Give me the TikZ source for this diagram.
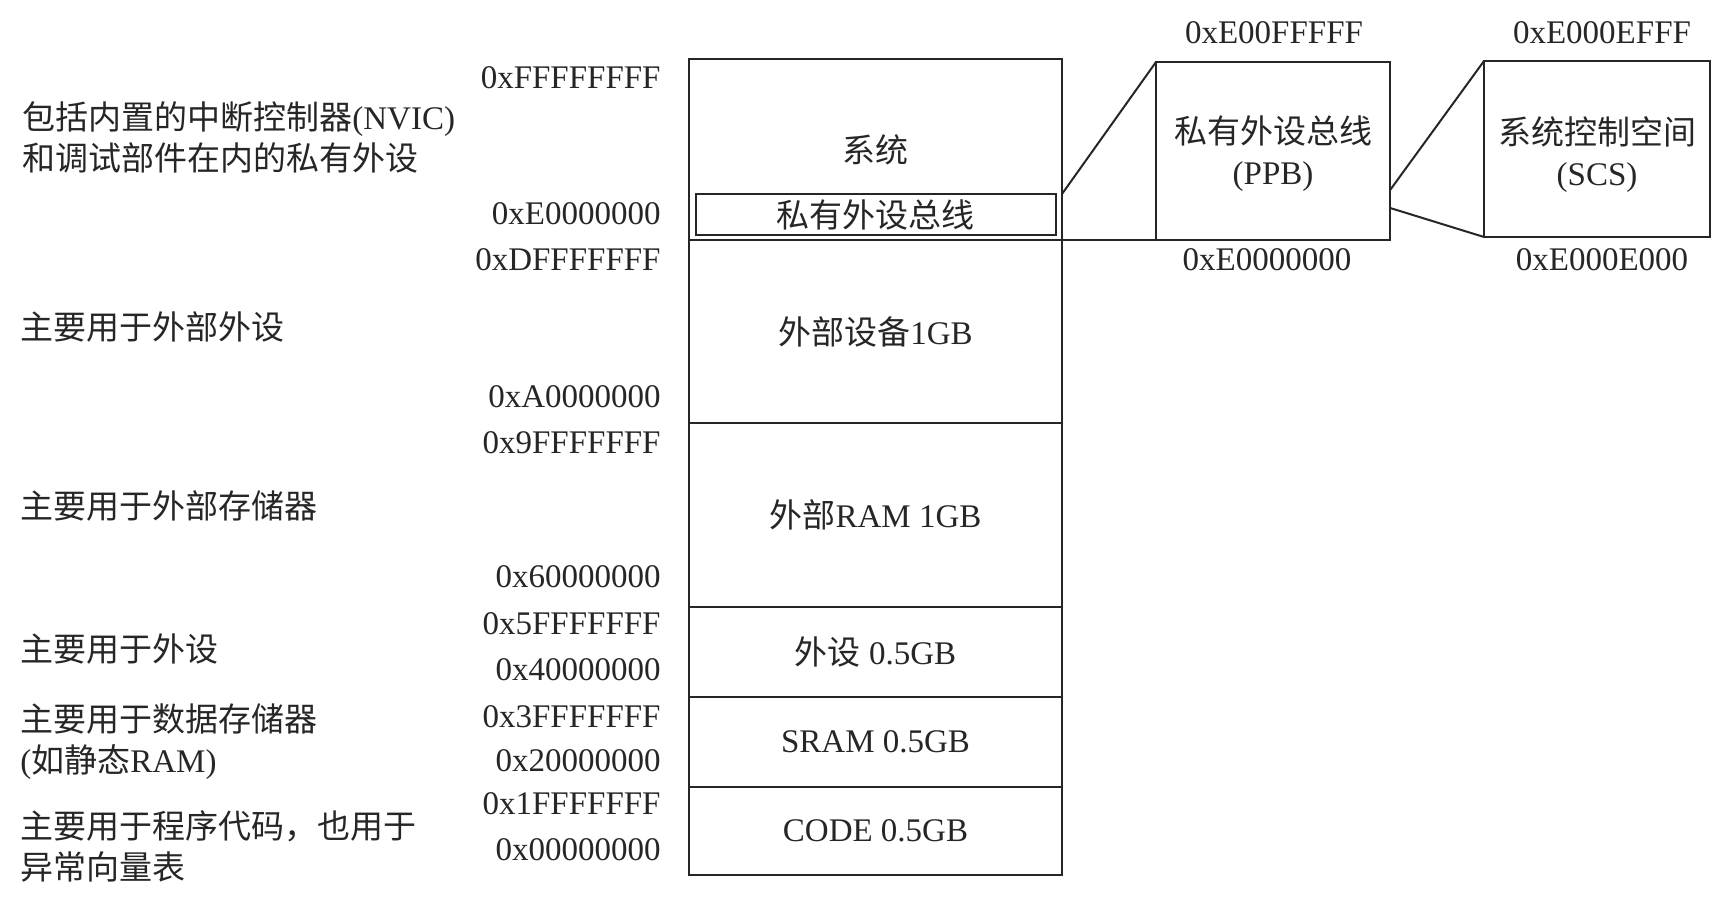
\documentclass[tikz,border=0pt]{standalone}
\usepackage{fontspec}
\setmainfont{Liberation Serif}
\newfontfamily\zhfont{Noto Sans CJK SC}
\usepackage{xcolor}
\usetikzlibrary{positioning,calc}
\definecolor{ink}{gray}{0.15}

\begin{document}
\begin{tikzpicture}[
  x=0.5pt, y=-0.5pt,
  every node/.style={text=ink,font=\fontsize{16.5}{20.5}\selectfont},
  region/.style={draw=ink,line width=1pt,minimum width=186.5pt,inner sep=0pt,outer sep=0pt},
  zoombox/.style={draw=ink,line width=1pt,align=center,inner sep=0pt,outer sep=0pt},
  addr/.style={inner sep=0pt,anchor=east},
  desc/.style={inner sep=0pt,anchor=west,align=left},
  link/.style={draw=ink,line width=1pt}
]
\useasboundingbox (0,0) rectangle (1730,924);

% memory map column
\node[region,minimum height=90.5pt,anchor=north] (sys) at (875.5,59) {\zhfont 系统};
\node[region,minimum height=91.5pt,below=0pt of sys] (extdev) {{\zhfont 外部设备}1GB};
\node[region,minimum height=92pt,below=0pt of extdev] (extram) {{\zhfont 外部}RAM 1GB};
\node[region,minimum height=45pt,below=0pt of extram] (periph) {{\zhfont 外设} 0.5GB};
\node[region,minimum height=45pt,below=0pt of periph] (sram) {SRAM 0.5GB};
\node[region,minimum height=44pt,below=0pt of sram] (code) {CODE 0.5GB};
\node[zoombox,minimum width=180pt,minimum height=20.5pt,above=2.5pt of sys.south] (bus) {\zhfont 私有外设总线};

% zoomed views
\node[zoombox,minimum width=117pt,minimum height=89pt,anchor=south west] (ppb)
  at ([xshift=47pt]sys.south east) {{\zhfont\rule{0pt}{17pt}私有外设总线}\\(PPB)};
\node[zoombox,minimum width=113pt,minimum height=88pt,anchor=south west] (scs)
  at ([xshift=47pt,yshift=1.5pt]ppb.south east) {{\zhfont\rule{0pt}{20pt}系统控制空间}\\(SCS)};
\draw[link] (bus.north -| sys.east) -- (ppb.north west);
\draw[link] (sys.south east) -- (ppb.south west);
\draw[link] ($(ppb.north east)!0.72!(ppb.south east)$) -- (scs.north west);
\draw[link] ($(ppb.north east)!0.82!(ppb.south east)$) -- (scs.south west);

% addresses
\node[addr] (aFF) at (661,78) {0xFFFFFFFF};
\node[addr] (aE0) at (661,214) {0xE0000000};
\node[addr] (aDF) at (661,260) {0xDFFFFFFF};
\node[addr] (aA0) at (661,397) {0xA0000000};
\node[addr] (a9F) at (661,443) {0x9FFFFFFF};
\node[addr] (a60) at (661,577) {0x60000000};
\node[addr] (a5F) at (661,624) {0x5FFFFFFF};
\node[addr] (a40) at (661,670) {0x40000000};
\node[addr] (a3F) at (661,717) {0x3FFFFFFF};
\node[addr] (a20) at (661,761) {0x20000000};
\node[addr] (a1F) at (661,804) {0x1FFFFFFF};
\node[addr] (a00) at (661,850) {0x00000000};
\node[inner sep=0pt] (ppbtop) at (1274,33) {0xE00FFFFF};
\node[inner sep=0pt] (ppbbot) at (1267,260) {0xE0000000};
\node[inner sep=0pt] (scstop) at (1602,33) {0xE000EFFF};
\node[inner sep=0pt] (scsbot) at (1602,260) {0xE000E000};

% descriptions
\node[desc] (dsys) at (22,137.5) {{\zhfont 包括内置的中断控制器}(NVIC)\\{\zhfont 和调试部件在内的私有外设}};
\node[desc] (dextdev) at (20,326.6) {\zhfont 主要用于外部外设};
\node[desc] (dextram) at (20,506) {\zhfont 主要用于外部存储器};
\node[desc] (dperiph) at (20,649) {\zhfont 主要用于外设};
\node[desc] (dsram) at (20,742) {{\zhfont 主要用于数据存储器}\\({\zhfont 如静态}RAM)};
\node[desc] (dcode) at (20,846) {{\zhfont 主要用于程序代码，也用于}\\{\zhfont 异常向量表}};
\end{tikzpicture}
\end{document}
